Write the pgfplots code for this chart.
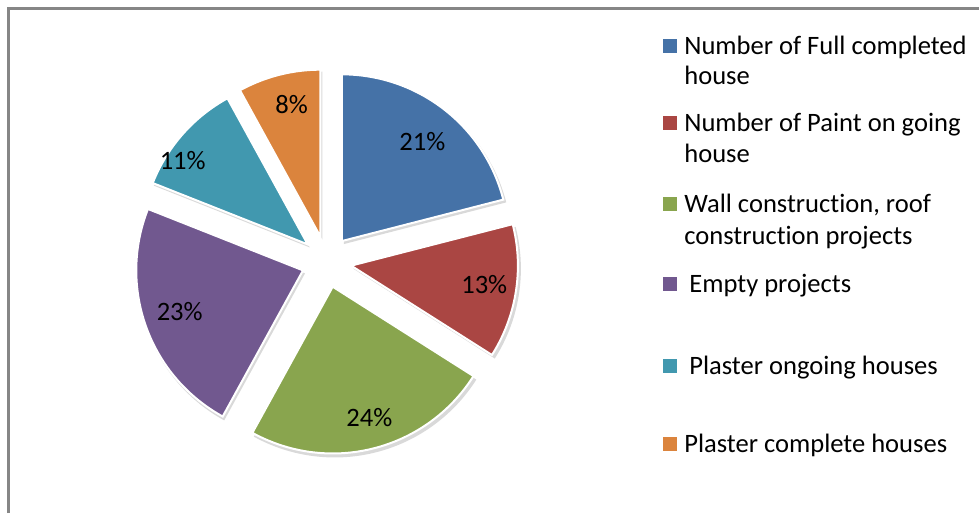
\documentclass[border=0pt]{standalone}
\usepackage{pgfplots}
\pgfplotsset{compat=1.18}
\usepackage{pgfplotstable}
\usepackage{fontspec}
\setmainfont[Ligatures={NoCommon,NoContextual}, Contextuals=NoAlternate]{Carlito}
\newcommand{\nolig}{\kern0pt}

\definecolor{pie0}{HTML}{4572A7}
\definecolor{pie1}{HTML}{AA4643}
\definecolor{pie2}{HTML}{89A54E}
\definecolor{pie3}{HTML}{71588F}
\definecolor{pie4}{HTML}{4198AF}
\definecolor{pie5}{HTML}{DB843D}
\definecolor{frame}{HTML}{868686}

% share in percent, label position (px, y up)
\pgfplotstableread{
pct lx ly
21 423 372
13 485 229
24 370 96
23 180 202
11 183 353
8 292 409
}\piedata

\begin{document}
\begin{tikzpicture}[every node/.style={font=\fontsize{13.3bp}{16bp}\selectfont}]
% slice angles, clockwise from 12 o'clock
\gdef\acc{90}
\pgfplotstableforeachcolumnelement{pct}\of\piedata\as\v{%
  \pgfmathsetmacro\e{\acc-3.6*\v}%
  \pgfmathsetmacro\m{(\acc+\e)/2}%
  \pgfmathsetmacro\cx{327+25*cos(\m)}%
  \pgfmathsetmacro\cy{252+26*sin(\m)}%
  \pgfmathsetmacro\sx{\cx+2}%
  \pgfmathsetmacro\sy{\cy-3}%
  \expandafter\xdef\csname s\pgfplotstablerow\endcsname{\acc}%
  \expandafter\xdef\csname e\pgfplotstablerow\endcsname{\e}%
  \expandafter\xdef\csname cx\pgfplotstablerow\endcsname{\cx}%
  \expandafter\xdef\csname cy\pgfplotstablerow\endcsname{\cy}%
  \expandafter\xdef\csname sx\pgfplotstablerow\endcsname{\sx}%
  \expandafter\xdef\csname sy\pgfplotstablerow\endcsname{\sy}%
  \xdef\acc{\e}%
}
\begin{axis}[
  hide axis,
  x=0.5bp, y=0.5bp,
  xmin=0, xmax=980, ymin=0, ymax=514,
  clip=false,
]
\path (axis cs:0,0) rectangle (axis cs:980,514);
\draw[frame, line width=1.5bp] (axis cs:9,0) -- (axis cs:9,505) -- (axis cs:980,505);

% shadows
\pgfplotsinvokeforeach{0,...,5}{%
  \edef\temp{\noexpand\addplot[draw=none, fill=black, fill opacity=0.15,
    domain=\csname e#1\endcsname:\csname s#1\endcsname, samples=80, variable=\noexpand\t]
    ({\csname sx#1\endcsname+168*cos(\noexpand\t)}, {\csname sy#1\endcsname+168*sin(\noexpand\t)})
    -- (axis cs:\csname sx#1\endcsname,\csname sy#1\endcsname) -- cycle;}%
  \temp
}
% slices
\pgfplotsinvokeforeach{0,...,5}{%
  \edef\temp{\noexpand\addplot[draw=white, line width=1bp, fill=pie#1,
    domain=\csname e#1\endcsname:\csname s#1\endcsname, samples=80, variable=\noexpand\t]
    ({\csname cx#1\endcsname+167*cos(\noexpand\t)}, {\csname cy#1\endcsname+167*sin(\noexpand\t)})
    -- (axis cs:\csname cx#1\endcsname,\csname cy#1\endcsname) -- cycle;}%
  \temp
}
% percentage labels
\pgfplotsinvokeforeach{0,...,5}{%
  \pgfplotstablegetelem{#1}{pct}\of\piedata \let\p\pgfplotsretval
  \pgfplotstablegetelem{#1}{lx}\of\piedata \let\lx\pgfplotsretval
  \pgfplotstablegetelem{#1}{ly}\of\piedata \let\ly\pgfplotsretval
  \edef\temp{\noexpand\node at (axis cs:\lx,\ly) {\p\noexpand\%};}%
  \temp
}

% legend
\fill[pie0] (axis cs:664,460.5) rectangle (axis cs:678,474.5);
\fill[pie1] (axis cs:664,383.5) rectangle (axis cs:678,397.5);
\fill[pie2] (axis cs:664,302.5) rectangle (axis cs:678,316.5);
\fill[pie3] (axis cs:664,222.5) rectangle (axis cs:678,236.5);
\fill[pie4] (axis cs:664,140.5) rectangle (axis cs:678,154.5);
\fill[pie5] (axis cs:664,62.5) rectangle (axis cs:678,76.5);
\node[anchor=base west, inner sep=0pt] at (axis cs:685,459) {Number of Full completed};
\node[anchor=base west, inner sep=0pt] at (axis cs:685,429) {house};
\node[anchor=base west, inner sep=0pt] at (axis cs:685,382) {Number of Paint on going};
\node[anchor=base west, inner sep=0pt] at (axis cs:685,351) {house};
\node[anchor=base west, inner sep=0pt] at (axis cs:685,301) {Wall construct\nolig ion, roof};
\node[anchor=base west, inner sep=0pt] at (axis cs:685,269) {construct\nolig ion projects};
\node[anchor=base west, inner sep=0pt] at (axis cs:690,221) {Empty projects};
\node[anchor=base west, inner sep=0pt] at (axis cs:690,139) {Plaster ongoing houses};
\node[anchor=base west, inner sep=0pt] at (axis cs:685,61) {Plaster complete houses};
\end{axis}
\end{tikzpicture}
\end{document}
